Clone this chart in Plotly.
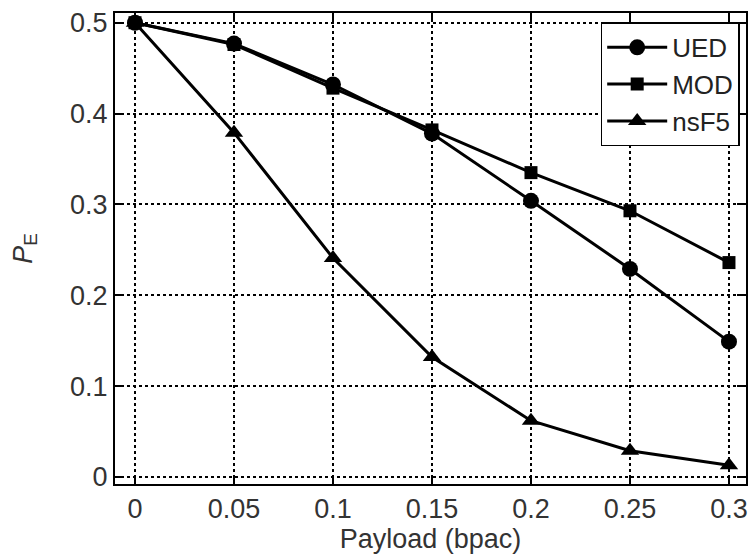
import plotly.graph_objects as go

payload = [0, 0.05, 0.1, 0.15, 0.2, 0.25, 0.3]
ued = [0.5, 0.477, 0.432, 0.378, 0.304, 0.229, 0.149]
mod = [0.5, 0.476, 0.428, 0.382, 0.335, 0.293, 0.236]
nsf5 = [0.5, 0.379, 0.241, 0.132, 0.062, 0.029, 0.013]

x_ticks = [0, 0.05, 0.1, 0.15, 0.2, 0.25, 0.3]
x_labels = ["0", "0.05", "0.1", "0.15", "0.2", "0.25", "0.3"]
y_ticks = [0, 0.1, 0.2, 0.3, 0.4, 0.5]
y_labels = ["0", "0.1", "0.2", "0.3", "0.4", "0.5"]

FONT = "Liberation Sans, Arial, sans-serif"

fig = go.Figure()
series = [("UED", ued, "circle", 16), ("MOD", mod, "square", 13), ("nsF5", nsf5, "triangle-up", 16)]
for name, vals, sym, sz in series:
    fig.add_trace(go.Scatter(
        x=payload, y=vals, name=name, mode="lines+markers",
        line=dict(color="black", width=3),
        marker=dict(symbol=sym, size=sz, color="black"),
    ))

axis_common = dict(
    showline=True, linecolor="black", linewidth=2, mirror="allticks",
    ticks="inside", ticklen=9, tickwidth=1.5, tickcolor="black",
    showgrid=True, gridcolor="black", gridwidth=1.5, griddash="dot",
    zeroline=False,
    tickfont=dict(family=FONT, size=27, color="#333333"),
)

fig.update_xaxes(
    range=[-0.0101, 0.3086], tickvals=x_ticks, ticktext=x_labels,
    title=dict(text="Payload (bpac)", font=dict(family=FONT, size=27, color="#333333"), standoff=0),
    **axis_common,
)
fig.update_yaxes(
    range=[-0.0077, 0.5107], tickvals=y_ticks, ticktext=y_labels,
    title=dict(text="<i>P</i><sub>E</sub>", font=dict(family=FONT, size=27, color="#333333"), standoff=30),
    **axis_common,
)

fig.update_layout(
    width=753, height=555,
    margin=dict(l=115, r=5, t=13, b=71),
    paper_bgcolor="white", plot_bgcolor="white",
    showlegend=True,
    legend=dict(
        x=0.99, y=0.98, xanchor="right", yanchor="top",
        bgcolor="white", bordercolor="black", borderwidth=1.5,
        font=dict(family=FONT, size=26, color="#222222"),
        itemwidth=60, tracegroupgap=0,
    ),
)

fig.write_html("out.html")
